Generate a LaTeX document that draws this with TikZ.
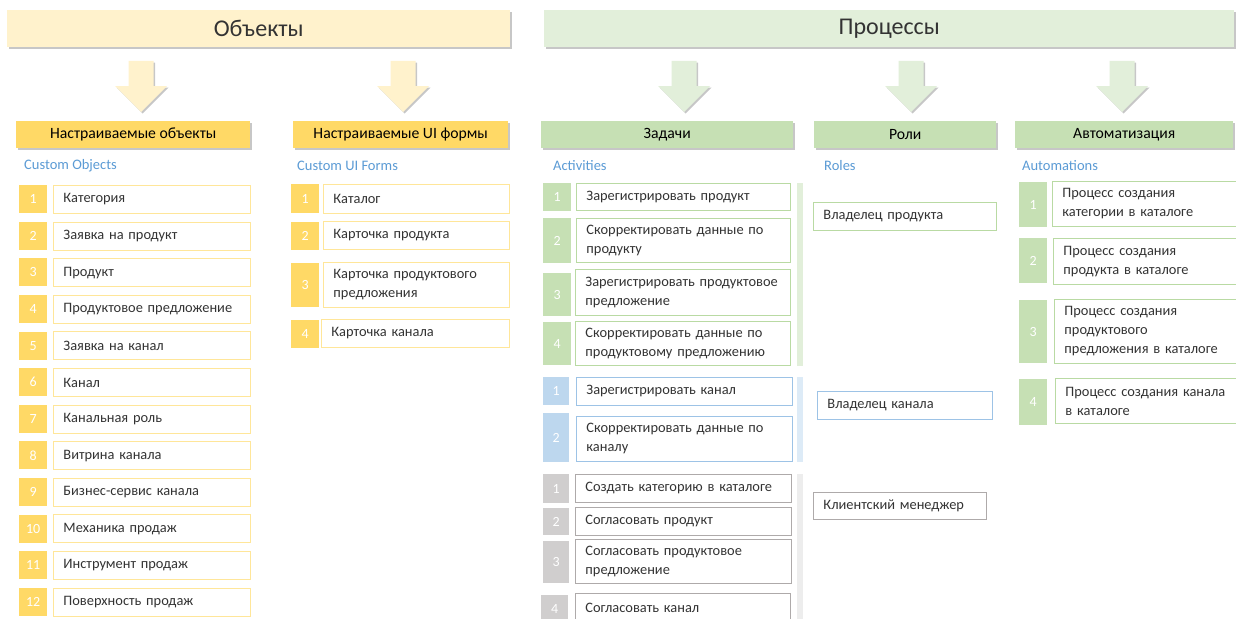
\documentclass[tikz,border=0pt]{standalone}
\usepackage{fontspec}
\setmainfont{Carlito}
\usetikzlibrary{shadows}
\definecolor{yBanner}{HTML}{FFF2CC}
\definecolor{yHead}{HTML}{FFD966}
\definecolor{yNum}{HTML}{FFD966}
\definecolor{yLine}{HTML}{FFE699}
\definecolor{gBanner}{HTML}{E2EFDA}
\definecolor{gHead}{HTML}{C6E0B4}
\definecolor{gNum}{HTML}{C6E0B4}
\definecolor{gLine}{HTML}{B9DAA3}
\definecolor{bNum}{HTML}{BDD7EE}
\definecolor{bLine}{HTML}{9DC3E6}
\definecolor{bBar}{HTML}{DDEBF7}
\definecolor{kNum}{HTML}{D0CECE}
\definecolor{kLine}{HTML}{AEAAAA}
\definecolor{kBar}{HTML}{EDEDED}
\definecolor{labBlue}{HTML}{5B9BD5}
\definecolor{txt}{HTML}{333333}
\newcommand\Rect[7]{\pgfmathsetmacro\rw{#5-#3}\pgfmathsetmacro\rh{#6-#4}%
  \node[#2, anchor=north west, minimum width=\rw pt, minimum height=\rh pt] (#1) at (#3,#4) {#7};}
\newcommand\Tbox[7]{\pgfmathsetmacro\rw{#5-#3}\pgfmathsetmacro\rh{#6-#4}\pgfmathsetmacro\tw{#5-#3-20}%
  \node[#2, anchor=north west, minimum width=\rw pt, minimum height=\rh pt, text width=\tw pt] (#1) at (#3,#4) {#7};}
\newcommand\BArrow[2]{%
  \fill[#2, shdw] (#1-12.5,61) -- (#1+12.5,61) -- (#1+12.5,86) -- (#1+26,86) -- (#1,112) -- (#1-26,86) -- (#1-12.5,86) -- cycle;}
\tikzset{
  shdw/.style={drop shadow={shadow xshift=1.6pt, shadow yshift=-1.6pt, fill=black, opacity=0.22}},
  banner/.style={shdw, inner sep=0pt, text=txt, font=\fontsize{24}{28}\selectfont},
  headbox/.style={shdw, inner sep=0pt, text=black, font=\fontsize{15.7}{18}\selectfont},
  numbox/.style={inner sep=0pt, text=white, font=\fontsize{14}{16}\selectfont},
  tbox/.style={draw, line width=0.9pt, fill=white, inner xsep=10pt, inner ysep=0pt, align=left, text=txt, font=\fontsize{14.4}{19}\selectfont},
  sublab/.style={anchor=west, inner sep=0pt, text=labBlue, font=\fontsize{14.5}{16}\selectfont},
  bar/.style={inner sep=0pt, draw=none}
}
\begin{document}
\begin{tikzpicture}[x=1pt,y=-1pt]
\useasboundingbox (0,0) rectangle (1236,618);
\fill[white] (0,0) rectangle (1236,618);
% banners
\Rect{bobj}{banner, fill=yBanner}{7}{10}{510}{47}{Объекты}
\Rect{bproc}{banner, fill=gBanner}{544}{10}{1234}{47}{Процессы}
% arrows
\BArrow{141}{yBanner}
\BArrow{403}{yBanner}
\BArrow{684}{gBanner}
\BArrow{911}{gBanner}
\BArrow{1122}{gBanner}
% headers
\Rect{hobj}{headbox, fill=yHead}{16}{121}{250}{148}{Настраиваемые объекты}
\Rect{hui}{headbox, fill=yHead}{293}{121}{508}{148}{Настраиваемые UI формы}
\Rect{htask}{headbox, fill=gHead}{541}{121}{793}{148}{Задачи}
\Rect{hrole}{headbox, fill=gHead}{814}{121}{996}{148}{Роли}
\Rect{hauto}{headbox, fill=gHead}{1015}{121}{1233}{148}{Автоматизация}
% sub labels
\node[sublab] (lobj) at (24,166) {Custom Objects};
\node[sublab] (lui) at (297,166) {Custom UI Forms};
\node[sublab] (ltask) at (553,166) {Activities};
\node[sublab] (lrole) at (824,166) {Roles};
\node[sublab] (lauto) at (1022,166) {Automations};
% objects list
\foreach \t [count=\i] in {Категория, Заявка на продукт, Продукт, Продуктовое предложение, Заявка на канал, Канал, Канальная роль, Витрина канала, Бизнес-сервис канала, Механика продаж, Инструмент продаж, Поверхность продаж}{
  \pgfmathsetmacro\ty{185+(\i-1)*36.6}
  \pgfmathsetmacro\tb{\ty+28}
  \Rect{on\i}{numbox, fill=yNum}{19}{\ty}{47}{\tb}{\i}
  \Tbox{ot\i}{tbox, draw=yLine}{53}{\ty}{250}{\tb}{\t}
}
% UI forms
\Rect{un1}{numbox, fill=yNum}{291}{184}{319}{213}{1}
\Tbox{ut1}{tbox, draw=yLine}{323}{184}{509}{213}{Каталог}
\Rect{un2}{numbox, fill=yNum}{291}{222}{319}{250}{2}
\Tbox{ut2}{tbox, draw=yLine}{323}{221}{509}{249}{Карточка продукта}
\Rect{un3}{numbox, fill=yNum}{291}{263}{319}{307}{3}
\Tbox{ut3}{tbox, draw=yLine}{323}{262}{509}{307}{Карточка продуктового\\предложения}
\Rect{un4}{numbox, fill=yNum}{291}{320}{319}{348}{4}
\Tbox{ut4}{tbox, draw=yLine}{321}{319}{509}{347}{Карточка канала}
% tasks: green
\Rect{gbar}{bar, fill=gBanner}{797}{183}{803}{366}{}
\Rect{tg1n}{numbox, fill=gNum}{543}{183}{571}{211}{1}
\Tbox{tg1}{tbox, draw=gLine}{576}{183}{790}{210}{Зарегистрировать продукт}
\Rect{tg2n}{numbox, fill=gNum}{543}{218}{571}{263}{2}
\Tbox{tg2}{tbox, draw=gLine}{576}{218}{790}{262}{Скорректировать данные по\\продукту}
\Rect{tg3n}{numbox, fill=gNum}{543}{273}{571}{316}{3}
\Tbox{tg3}{tbox, draw=gLine}{575}{269}{790}{315}{Зарегистрировать продуктовое\\предложение}
\Rect{tg4n}{numbox, fill=gNum}{543}{322}{571}{365}{4}
\Tbox{tg4}{tbox, draw=gLine}{575}{321}{790}{365}{Скорректировать данные по\\продуктовому предложению}
% tasks: blue
\Rect{bbar}{bar, fill=bBar}{797}{377}{803}{462}{}
\Rect{tb1n}{numbox, fill=bNum}{543}{377}{569}{405}{1}
\Tbox{tb1}{tbox, draw=bLine}{576}{377}{792}{405}{Зарегистрировать канал}
\Rect{tb2n}{numbox, fill=bNum}{543}{413}{569}{462}{2}
\Tbox{tb2}{tbox, draw=bLine}{576}{416}{792}{461}{Скорректировать данные по\\каналу}
% tasks: gray
\Rect{kbar}{bar, fill=kBar}{797}{474}{803}{620}{}
\Rect{tk1n}{numbox, fill=kNum}{543}{474}{569}{503}{1}
\Tbox{tk1}{tbox, draw=kLine}{575}{474}{791}{502}{Создать категорию в каталоге}
\Rect{tk2n}{numbox, fill=kNum}{543}{508}{569}{535}{2}
\Tbox{tk2}{tbox, draw=kLine}{575}{507}{791}{535}{Согласовать продукт}
\Rect{tk3n}{numbox, fill=kNum}{543}{541}{569}{583}{3}
\Tbox{tk3}{tbox, draw=kLine}{575}{539}{791}{583}{Согласовать продуктовое\\предложение}
\Rect{tk4n}{numbox, fill=kNum}{541}{595}{568}{622}{4}
\Tbox{tk4}{tbox, draw=kLine}{575}{593}{790}{622}{Согласовать канал}
% roles
\Tbox{r1}{tbox, draw=gLine}{813}{202}{996}{230}{Владелец продукта}
\Tbox{r2}{tbox, draw=bLine}{817}{391}{992}{419}{Владелец канала}
\Tbox{r3}{tbox, draw=kLine}{813}{492}{986}{519}{Клиентский менеджер}
% automations
\Rect{a1n}{numbox, fill=gNum}{1019}{182}{1047}{227}{1}
\Tbox{a1}{tbox, draw=gLine}{1052}{181}{1237}{226}{Процесс создания\\категории в каталоге}
\Rect{a2n}{numbox, fill=gNum}{1019}{238}{1047}{283}{2}
\Tbox{a2}{tbox, draw=gLine}{1053}{238}{1237}{284}{Процесс создания\\продукта в каталоге}
\Rect{a3n}{numbox, fill=gNum}{1019}{300}{1047}{363}{3}
\Tbox{a3}{tbox, draw=gLine}{1054}{299}{1237}{363}{Процесс создания\\продуктового\\предложения в каталоге}
\Rect{a4n}{numbox, fill=gNum}{1019}{379}{1047}{425}{4}
\Tbox{a4}{tbox, draw=gLine}{1055}{378}{1237}{423}{Процесс создания канала\\в каталоге}
\end{tikzpicture}
\end{document}
